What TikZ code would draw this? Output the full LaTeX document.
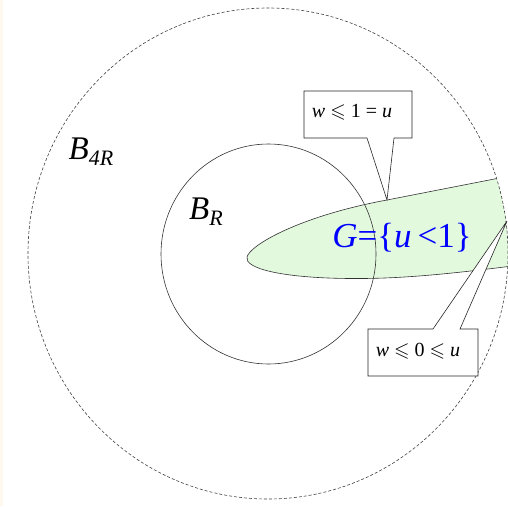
\documentclass[tikz,border=0pt]{standalone}
\usepackage{amssymb}
\usepackage{fontspec}
\setmainfont{Liberation Serif}
\usetikzlibrary{positioning}
\definecolor{gfill}{RGB}{226,249,222}
\definecolor{stripcream}{RGB}{255,248,238}
\newcommand{\ballsub}[1]{\raisebox{-6pt}{\fontsize{22}{24}\selectfont\textit{#1}}}

\begin{document}
\begin{tikzpicture}[x=1pt,y=-1pt,
  ball/.style={line width=0.6pt,draw=black!80},
  outerball/.style={line width=0.6pt,draw=black!75,dash pattern=on 3pt off 2pt},
  callout/.style={draw=black!85,line width=0.6pt,fill=white},
  bigtext/.style={font=\fontsize{33}{36}\selectfont},
  smalltext/.style={font=\fontsize{20}{22}\selectfont}]
  \useasboundingbox (0,0) rectangle (508,506);
  % pale strip on the left margin
  \fill[stripcream] (0,0) rectangle (3,506);
  % the set G, cut off by the outer ball
  \begin{scope}
    \clip (268,253.5) ellipse [x radius=240pt, y radius=245.5pt];
    \filldraw[fill=gfill,ball] (520,174) -- (387,200)
      .. controls (300,216) and (250,245) .. (247,257)
      .. controls (244,268) and (280,278) .. (350,278.5)
      .. controls (400,279) and (450,274) .. (520,265) -- cycle;
  \end{scope}
  % inner ball B_R and outer ball B_4R
  \draw[ball] (268.5,254) ellipse [x radius=107.5pt, y radius=110pt];
  \draw[outerball] (268,253.5) ellipse [x radius=240pt, y radius=245.5pt];
  % tips of the two callouts
  \coordinate (tipA) at (387,200);
  \coordinate (tipB) at (507,221);
  \filldraw[callout] (304,91) -- (412,91) -- (412,138) -- (394,138) -- (tipA)
    -- (367,138) -- (304,138) -- cycle;
  \filldraw[callout] (368,329) -- (433,329) -- (tipB) -- (460,329) -- (478,329)
    -- (478,376) -- (368,376) -- cycle;
  % labels
  \node[bigtext] (bfour) at (91,152) {\textit{B}\ballsub{4R}};
  \node[bigtext] (bone) at (206,212) {\textit{B}\ballsub{R}};
  \node[bigtext,text=blue,font=\fontsize{35}{38}\selectfont] (gset) at (402,238) {\textit{G}=\{\textit{u}\,<1\}};
  \node[smalltext] (lblA) at (352,112) {\textit{w} $\leqslant$ 1 = \textit{u}};
  \node[smalltext] (lblB) at (418,351) {\textit{w} $\leqslant$ 0 $\leqslant$ \textit{u}};
\end{tikzpicture}
\end{document}
